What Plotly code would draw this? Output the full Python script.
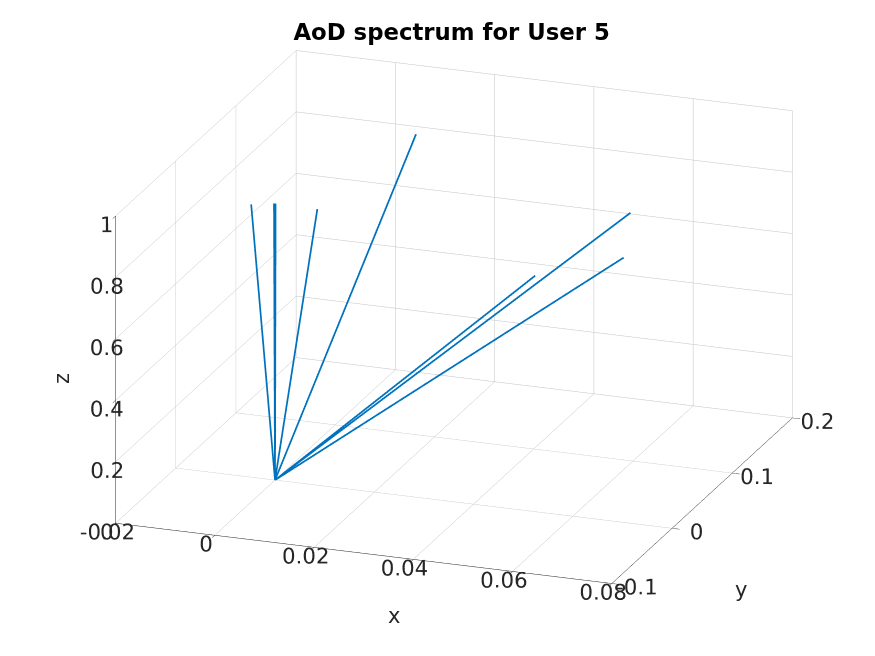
import plotly.graph_objects as go

# path end points (each path is drawn from the origin)
path_x = [-0.0029, -0.0002, 0.0001, 0.0086, 0.0146, 0.0710, 0.0573, 0.0755]
path_y = [-0.0157, 0.0, 0.0001, -0.0006, 0.1139, 0.0052, -0.0402, -0.0433]
path_z = [0.92, 0.90, 0.90, 0.90, 0.95, 1.00, 0.85, 0.95]

x_ticks = [-0.02, 0, 0.02, 0.04, 0.06, 0.08]
x_labels = ["-0.02", "0", "0.02", "0.04", "0.06", "0.08"]
y_ticks = [-0.1, 0, 0.1, 0.2]
y_labels = ["-0.1", "0", "0.1", "0.2"]
z_ticks = [0, 0.2, 0.4, 0.6, 0.8, 1]
z_labels = ["0", "0.2", "0.4", "0.6", "0.8", "1"]

# build origin -> end point segments, separated by gaps
xs, ys, zs = [], [], []
for px, py, pz in zip(path_x, path_y, path_z):
    xs += [0, px, None]
    ys += [0, py, None]
    zs += [0, pz, None]

fig = go.Figure()
fig.add_trace(go.Scatter3d(
    x=xs, y=ys, z=zs,
    mode='lines',
    line=dict(color='#0072BD', width=3.5),
    connectgaps=False,
    showlegend=False,
    hoverinfo='skip'
))

font = dict(family='DejaVu Sans', size=16, color='#262626')
label_font = dict(family='DejaVu Sans', size=21, color='#262626')


def axis_style(vals, labels, rng):
    return dict(
        title=dict(text=''),
        range=rng,
        tickvals=vals,
        ticktext=labels,
        tickfont=font,
        tickangle=0,
        ticks='outside',
        ticklen=8,
        tickcolor='#262626',
        showline=True,
        linecolor='#262626',
        linewidth=1,
        gridcolor='#c4c4c4',
        gridwidth=1,
        zeroline=False,
        showbackground=False,
        showspikes=False,
        autorange=False,
    )


# small shift of the view so the box sits where it does in the original
cx, cy, cz = 0.0266, 0.0007, -0.0238

fig.update_layout(
    width=875,
    height=656,
    paper_bgcolor='white',
    margin=dict(l=0, r=0, t=0, b=0),
    title=dict(
        text='<b>AoD spectrum for User 5</b>',
        x=0.507, xanchor='center',
        y=0.963, yanchor='middle',
        font=dict(family='DejaVu Sans', size=22.8, color='black')
    ),
    scene=dict(
        domain=dict(x=[0.036, 1.0], y=[0.034, 1.0]),
        xaxis=axis_style(x_ticks, x_labels, [-0.02, 0.08]),
        yaxis=axis_style(y_ticks, y_labels, [-0.1, 0.2]),
        zaxis=axis_style(z_ticks, z_labels, [0, 1]),
        aspectmode='manual',
        aspectratio=dict(x=1.666, y=1.666, z=1.028),
        camera=dict(
            projection=dict(type='orthographic'),
            up=dict(x=0, y=0, z=1),
            center=dict(x=cx, y=cy, z=cz),
            eye=dict(x=cx + 0.3224 * 2.0, y=cy - 0.8859 * 2.0, z=cz + 0.3337 * 2.0)
        )
    ),
    # axis names placed like MATLAB does (outside the tick labels)
    annotations=[
        dict(text='x', x=386 / 875, y=1 - 622 / 656, xref='paper', yref='paper',
             showarrow=False, font=label_font),
        dict(text='y', x=741 / 875, y=1 - 596 / 656, xref='paper', yref='paper',
             showarrow=False, font=label_font),
        dict(text='z', x=40 / 875, y=1 - 371 / 656, xref='paper', yref='paper',
             showarrow=False, font=label_font, textangle=-90),
    ]
)

fig.write_html("out.html")
